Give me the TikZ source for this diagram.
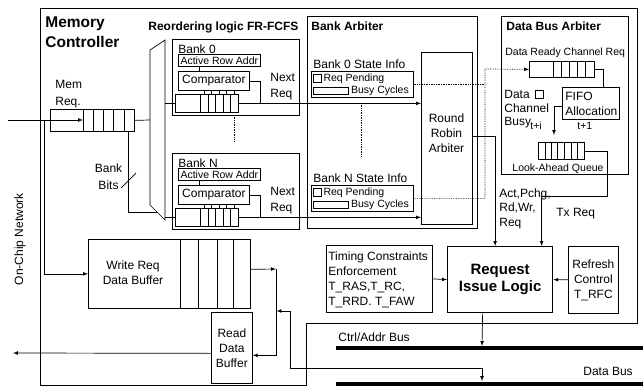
\documentclass[tikz,border=0pt]{standalone}
\usepackage{fontspec}
\setmainfont{Liberation Sans}
\usetikzlibrary{arrows}
\usetikzlibrary{math}

\begin{document}
\begin{tikzpicture}[x=1pt,y=-1pt,line width=0.7pt,
  blk/.style={draw, inner sep=0pt, anchor=north west},
  txt/.style={inner sep=0pt, font=\fontsize{12}{15}\selectfont},
  sml/.style={inner sep=0pt, font=\fontsize{10.5}{12}\selectfont},
  hdr/.style={inner sep=0pt, font=\bfseries\fontsize{12}{14}\selectfont}]
\tikzmath{
\dy=114;
}
\useasboundingbox (0,0) rectangle (643,389);
%memory controller
\draw (40,8) -- (637,8) -- (637,323) -- (306,323) -- (306,385) -- (40,385) -- cycle;
\node[anchor=north west, inner sep=0pt, align=left, font=\bfseries\fontsize{15.5}{20}\selectfont] (mctitle) at (45,16) {Memory\\Controller};
\node[txt, rotate=90] (noclbl) at (20,239) {On-Chip Network};

%input queue
\node[blk, minimum width=84, minimum height=22] (memq) at (50,109) {};
\foreach \x in {83,93,103,113.5,124} \draw (\x,109) -- (\x,131);
\node[txt, anchor=north west, align=left, font=\fontsize{12}{17}\selectfont] (memlbl) at (55,80) {Mem\\Req.};
\node[txt, anchor=north, align=center, font=\fontsize{12}{17}\selectfont] (bblbl) at (108.5,163) {Bank\\Bits};
\draw (121,188) -- (136,173);

%reordering logic
\node[hdr, anchor=north west] (rlhdr) at (148,21) {Reordering logic FR-FCFS};
\draw (150,50) -- (165,40) -- (165,220) -- (150,205) -- cycle;
\coordinate (muxin) at (150,120);
\coordinate (bbits) at (128,131);
\coordinate (bbend) at (157,212);

%bank 0
\node[blk, minimum width=127, minimum height=76] (bank0) at (172,39) {};
\node[txt, anchor=north west] (bank0lbl) at (178,44) {Bank 0};
\node[blk, sml, minimum width=82, minimum height=12] (act0) at (178,54) {Active Row Addr};
\node[blk, txt, minimum width=71, minimum height=19] (cmp0) at (178,71) {Comparator};
\node[blk, minimum width=63, minimum height=18] (bq0) at (175,94) {};
\foreach \x in {200,208,215,223,230} \draw (\x,94) -- (\x,112);
\foreach \x in {204,211.5,219,226.5,234} \draw (\x,90) -- (\x,94);
\node[txt, anchor=north west, align=left, font=\fontsize{12}{16}\selectfont] (nx0) at (270,73) {Next\\Req};

%bank N
\node[blk, minimum width=127, minimum height=76] (bankN) at (172,39+\dy) {};
\node[txt, anchor=north west] (bankNlbl) at (178,44+\dy) {Bank N};
\node[blk, sml, minimum width=82, minimum height=12] (actN) at (178,54+\dy) {Active Row Addr};
\node[blk, txt, minimum width=71, minimum height=19] (cmpN) at (178,71+\dy) {Comparator};
\node[blk, minimum width=63, minimum height=18] (bqN) at (175,94+\dy) {};
\foreach \x in {200,208,215,223,230} \draw (\x,94+\dy) -- (\x,112+\dy);
\foreach \x in {204,211.5,219,226.5,234} \draw (\x,90+\dy) -- (\x,94+\dy);
\node[txt, anchor=north west, align=left, font=\fontsize{12}{16}\selectfont] (nxN) at (270,73+\dy) {Next\\Req};
\draw[densely dotted] (234,115) -- (234,142);

%bank arbiter
\node[blk, minimum width=170, minimum height=212] (barb) at (307,16) {};
\node[hdr, anchor=north west] (barbhdr) at (311,21) {Bank Arbiter};
\node[txt, anchor=north west] (si0lbl) at (313,59) {Bank 0 State Info};
\node[blk, minimum width=102, minimum height=26] (si0) at (311,71) {};
\node[blk, minimum width=8, minimum height=8] (rp0) at (313,74) {};
\node[sml, anchor=west] (rp0lbl) at ([xshift=1.5pt]rp0.east) {Req Pending};
\node[blk, minimum width=35, minimum height=7] (bc0) at (313,87) {};
\node[sml, anchor=west] (bc0lbl) at ([xshift=2pt]bc0.east) {Busy Cycles};
\node[txt, anchor=north west] (siNlbl) at (313,59+\dy) {Bank N State Info};
\node[blk, minimum width=102, minimum height=26] (siN) at (311,71+\dy) {};
\node[blk, minimum width=8, minimum height=8] (rpN) at (313,74+\dy) {};
\node[sml, anchor=west] (rpNlbl) at ([xshift=1.5pt]rpN.east) {Req Pending};
\node[blk, minimum width=35, minimum height=7] (bcN) at (313,87+\dy) {};
\node[sml, anchor=west] (bcNlbl) at ([xshift=2pt]bcN.east) {Busy Cycles};
\draw[densely dotted] (361,103) -- (361,157);
\node[blk, minimum width=51, minimum height=172] (rr) at (421,52) {};
\node[txt, align=center] (rrlbl) at (446.5,133) {Round\\Robin\\Arbiter};

%data bus arbiter
\node[blk, minimum width=127, minimum height=158] (dba) at (501,16) {};
\node[hdr, anchor=north west] (dbahdr) at (506,21) {Data Bus Arbiter};
\node[sml, anchor=north west] (drqlbl) at (505,48) {Data Ready Channel Req};
\node[blk, minimum width=65, minimum height=16] (drq) at (529,61) {};
\foreach \x in {553,561,569,577,585} \draw (\x,61) -- (\x,77);
\node[txt, anchor=north west, align=left, font=\fontsize{12}{13.5}\selectfont] (busylbl) at (504,90) {Data\\Channel\\Busy};
\node[blk, minimum width=8, minimum height=8] (busychk) at (535,90) {};
\node[blk, minimum width=57, minimum height=32] (fifo) at (562,87) {};
\node[txt, anchor=north west, align=left] (fifolbl) at (565,92) {FIFO\\Allocation};
\node[blk, minimum width=46, minimum height=17] (laq) at (538,142) {};
\foreach \x in {545,551,557,564,571,577} \draw (\x,142) -- (\x,159);
\node[sml, anchor=north west] (tilbl) at (530,122) {t+i};
\node[sml, anchor=north west] (t1lbl) at (577,122) {t+1};
\node[sml, anchor=north] (laqlbl) at (558,164) {Look-Ahead Queue};
\coordinate (dotbus) at (485,69);
\coordinate (laqin) at (554,135);
\coordinate (txbend) at (607,196);

%issue logic
\node[blk, minimum width=106, minimum height=67] (tce) at (326,245) {};
\node[txt, anchor=north west, align=left] (tcelbl) at (328,251) {Timing Constraints\\Enforcement\\T\_RAS,T\_RC,\\T\_RRD. T\_FAW};
\node[blk, line width=1.3pt, align=center, minimum width=105, minimum height=66, font=\bfseries\fontsize{15}{17}\selectfont] (ril) at (447,246) {Request\\Issue Logic};
\node[blk, txt, align=center, minimum width=50, minimum height=67] (rfc) at (568,246) {Refresh\\Control\\T\_RFC};
\node[txt, anchor=north west, align=left, font=\fontsize{12}{14.5}\selectfont] (cmdlbl) at (499,188) {Act,Pchg,\\Rd,Wr,\\Req};
\node[txt, anchor=north west] (txlbl) at (556,208) {Tx Req};

%buffers
\node[blk, minimum width=162, minimum height=69] (wrb) at (88,239) {};
\foreach \x in {180,198,217,233} \draw (\x,239) -- (\x,308);
\node[txt, align=center] (wrblbl) at (133,273) {Write Req\\Data Buffer};
\node[blk, txt, align=center, minimum width=41, minimum height=71] (rdb) at (211,312) {Read\\Data\\Buffer};

%buses
\coordinate (cabus0) at (336,348);
\coordinate (cabus1) at (643,348);
\coordinate (dbus0) at (336,384);
\coordinate (dbus1) at (643,384);
\draw[line width=3.5pt] (cabus0) -- (cabus1);
\draw[line width=3.5pt] (dbus0) -- (dbus1);
\node[txt, anchor=north west] (cablbl) at (338,332) {Ctrl/Addr Bus};
\node[txt, anchor=north west] (dblbl) at (583,367) {Data Bus};
\coordinate (noc) at (8,120);
\coordinate (memqhead) at (83,120);
\coordinate (split) at (44,120);
\coordinate (nocout) at (13,353);
\coordinate (wrrd) at (276,269);
\coordinate (dbin) at (276.5,311);
\coordinate (dbout) at (482,381);
\coordinate (cabusin) at (482,346);

%connections
\draw[-latex] (noc) -- (memqhead);
\draw[-latex] (split) |- (wrb.west);
\draw (memq.east) -- (muxin);
\draw (bbits) |- (bbend);
\draw (bq0.west) -- ++(-10,0);
\draw (bqN.west) -- ++(-10,0);
\draw ([xshift=-20pt]act0.south) -- ([xshift=-20pt]act0.south |- cmp0.north);
\draw ([xshift=-20pt]actN.south) -- ([xshift=-20pt]actN.south |- cmpN.north);
\draw (cmp0.east) -| ([xshift=22pt]bq0.east);
\draw (cmpN.east) -| ([xshift=22pt]bqN.east);
\draw[-latex] (bq0.east) -- (bq0.east -| rr.west);
\draw[-latex] (bqN.east) -- (bqN.east -| rr.west);
\draw[densely dotted] (si0.east) -- (si0.east -| dotbus);
\draw[densely dotted, -latex] (siN.east) -| (dotbus) -- (drq.west);
\draw[-latex] ([yshift=2pt]rr.east) -| ([xshift=-5pt]ril.north);
\draw (drq.east) -| ([xshift=12.5pt]fifo.north);
\draw[-latex] ([yshift=-3pt]fifo.west) -| (laqin);
\draw[-latex] (laq.east) -| (txbend) -| ([xshift=41.5pt]ril.north);
\draw[-latex] (tce.east) -- (ril.west);
\draw[-latex] (rfc.west) -- (ril.east);
\draw[-latex] ([xshift=-17.5pt]ril.south) -- (cabusin);
\draw[-latex] ([yshift=4.5pt]wrb.east) -- (wrrd);
\draw[-latex] (wrrd) |- ([yshift=-7.5pt]rdb.east);
\draw[-latex] ([yshift=-5.5pt]rdb.west) -- (nocout);
\draw[latex-latex] (dbin) -- (290,311) -- (290,368) -| (dbout);
\end{tikzpicture}
\end{document}
